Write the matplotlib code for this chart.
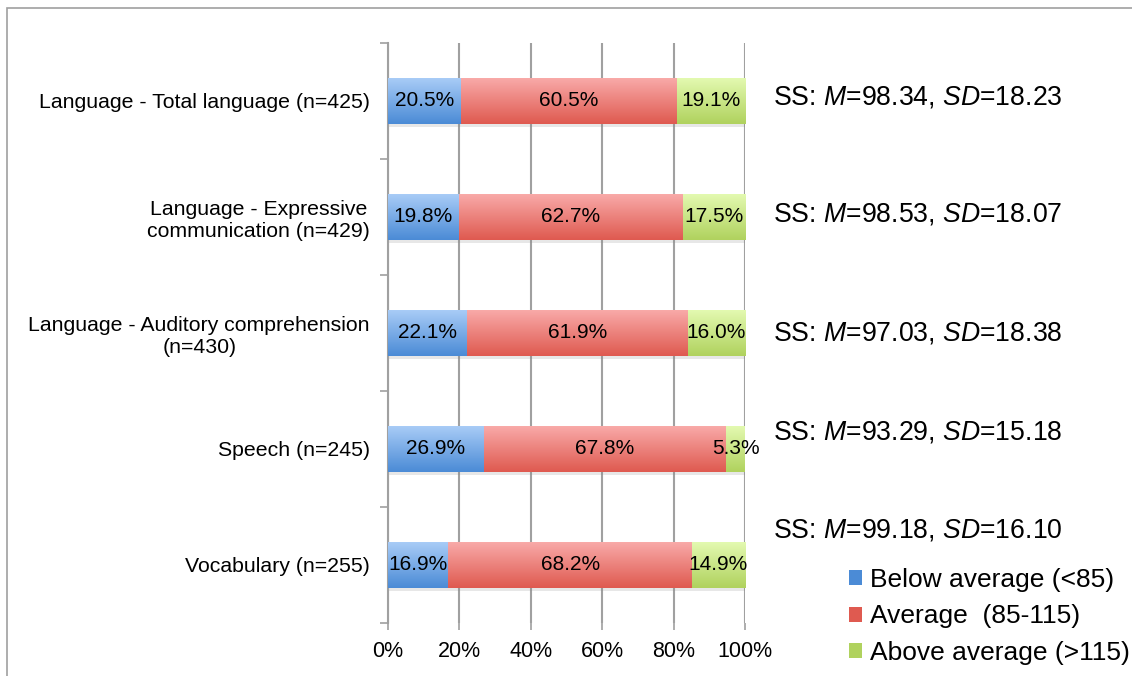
import numpy as np
import matplotlib
matplotlib.use('Agg')
import matplotlib.pyplot as plt
import matplotlib.patheffects as pe
from matplotlib.colors import to_rgb
from matplotlib.patches import Rectangle, Patch
from matplotlib.transforms import blended_transform_factory

plt.rcParams['font.family'] = ['Liberation Sans', 'DejaVu Sans']
plt.rcParams['mathtext.fontset'] = 'custom'
plt.rcParams['mathtext.rm'] = 'Liberation Sans'
plt.rcParams['mathtext.it'] = 'Liberation Sans:italic'

# Score bands per measure (percent of children)
measures = ['Language - Total language (n=425)',
            'Language - Expressive\ncommunication (n=429)',
            'Language - Auditory comprehension\n(n=430)',
            'Speech (n=245)',
            'Vocabulary (n=255)']
below = [20.5, 19.8, 22.1, 26.9, 16.9]
average = [60.5, 62.7, 61.9, 67.8, 68.2]
above = [19.1, 17.5, 16.0, 5.3, 14.9]

# Standard score summaries
ss_mean = [98.34, 98.53, 97.03, 93.29, 99.18]
ss_sd = [18.23, 18.07, 18.38, 15.18, 16.10]

band_names = ['Below average (<85)', 'Average  (85-115)', 'Above average (>115)']
# (top, bottom) gradient colours for each band
band_colors = [('#aacdf7', '#4b8bd6'),
               ('#f9abaa', '#df5a50'),
               ('#e4fab2', '#b0d25e')]

fig = plt.figure(figsize=(11.32, 6.76), dpi=100)
ax = fig.add_axes([388 / 1132, 1 - 623 / 676, 357 / 1132, 580 / 676])

# grey frame around the chart area
fig.patches.append(Rectangle((7 / 1132, -0.1), 1.2, 1 - 8 / 676 + 0.1,
                             transform=fig.transFigure, fill=False,
                             edgecolor='#a0a0a0', linewidth=1.2))

y = np.arange(len(measures))
bar_h = 0.4
series = [below, average, above]
left = np.zeros(len(measures))
shadow = [pe.SimplePatchShadow(offset=(1, -2), shadow_rgbFace='#888888', alpha=0.2), pe.Normal()]

for vals, (c_top, c_bot) in zip(series, band_colors):
    bars = ax.barh(y, vals, left=left, height=bar_h, color=c_bot,
                   linewidth=0, zorder=3, path_effects=shadow)
    grad = np.linspace(0, 1, 64)[:, None, None]
    img = (1 - grad) * np.array(to_rgb(c_top)) + grad * np.array(to_rgb(c_bot))
    for b, v, l in zip(bars, vals, left):
        x0, yc = b.get_x(), b.get_y() + bar_h / 2
        im = ax.imshow(img, extent=(x0, x0 + b.get_width(), yc + bar_h / 2, yc - bar_h / 2),
                       aspect='auto', origin='upper', zorder=4, interpolation='bilinear')
        im.set_clip_path(b)
        ax.text(l + v / 2, yc, f'{v:.1f}%', ha='center', va='center',
                fontsize=15, color='black', zorder=5)
    left = left + np.array(vals)

ax.set_xlim(0, 100)
ax.set_ylim(len(measures) - 0.5, -0.5)

ax.set_xticks(np.arange(0, 101, 20))
ax.set_xticklabels([f'{t}%' for t in range(0, 101, 20)], fontsize=15.5)
ax.set_yticks(y)
ax.set_yticklabels(measures, fontsize=15.3, multialignment='center')
ax.set_yticks(np.arange(-0.5, len(measures), 1), minor=True)
ax.tick_params(axis='y', which='major', length=0, pad=13)
ax.tick_params(axis='y', which='minor', length=6, color='#a0a0a0', width=1.2)
ax.tick_params(axis='x', length=5, color='#a0a0a0', width=1.2, pad=8)

ax.grid(axis='x', color='#a0a0a0', linewidth=1.5, zorder=0)
ax.set_axisbelow(True)
for side in ['top', 'right', 'bottom']:
    ax.spines[side].set_visible(False)
ax.spines['left'].set_color('#a0a0a0')
ax.spines['left'].set_linewidth(1.5)

# standard score text beside each bar
stat_shift = [-0.03, -0.02, 0.0, -0.14, -0.3]
tr = blended_transform_factory(ax.transAxes, ax.transData)
for yi, m, sd, dy in zip(y, ss_mean, ss_sd, stat_shift):
    ax.text(1.078, yi + dy, f'SS: $\\mathit{{M}}$={m:.2f}, $\\mathit{{SD}}$={sd:.2f}',
            transform=tr, ha='left', va='center', fontsize=19.2, clip_on=False)

handles = [Patch(facecolor=c_bot, edgecolor='none') for _, c_bot in band_colors]
fig.legend(handles, band_names, loc='upper left', bbox_to_anchor=(849 / 1132, 1 - 568 / 676),
           frameon=False, fontsize=19, handlelength=0.5, handleheight=0.5,
           handletextpad=0.3, labelspacing=0.47, borderaxespad=0, borderpad=0)

fig.savefig('out.png', dpi=100)
